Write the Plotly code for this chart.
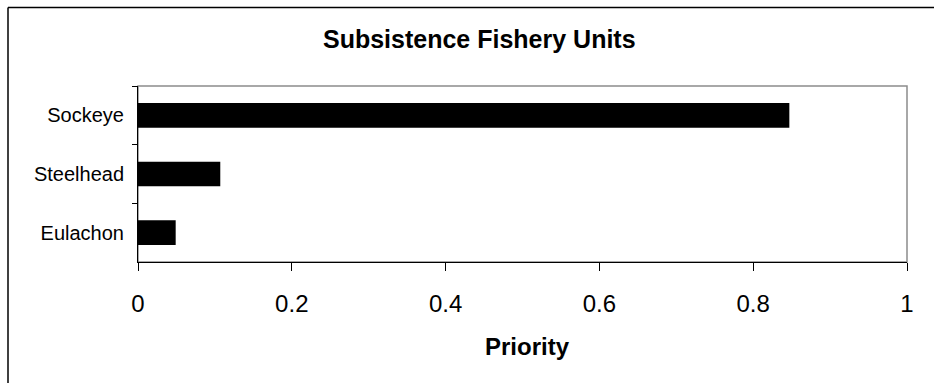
import plotly.graph_objects as go

# Subsistence fishery units and their priority scores
species = ["Sockeye", "Steelhead", "Eulachon"]
priority = [0.847, 0.107, 0.049]
x_ticks = [0, 0.2, 0.4, 0.6, 0.8, 1]
x_tick_labels = ["0", "0.2", "0.4", "0.6", "0.8", "1"]

W, H = 934, 383
ML, MR, MT, MB = 138, 27, 86, 121
PW, PH = W - ML - MR, H - MT - MB

def px_x(px):
    return (px - ML) / PW

def px_y(py):
    return (H - MB - py) / PH

FONT = "Liberation Sans, Arial, sans-serif"

fig = go.Figure(
    go.Bar(
        y=species,
        x=priority,
        orientation="h",
        width=0.42,
        marker=dict(color="#000000", line=dict(width=0)),
        hoverinfo="x+y",
    )
)

fig.update_layout(
    width=W,
    height=H,
    margin=dict(l=ML, r=MR, t=MT, b=MB, pad=0),
    paper_bgcolor="white",
    plot_bgcolor="white",
    showlegend=False,
    font=dict(family=FONT, color="#000000"),
    xaxis=dict(
        range=[0, 1],
        tickvals=x_ticks,
        ticktext=x_tick_labels,
        ticks="outside",
        ticklen=8,
        tickwidth=1,
        tickcolor="#000000",
        showline=True,
        linecolor="#000000",
        linewidth=1,
        showgrid=False,
        zeroline=False,
        tickfont=dict(size=24, family=FONT),
        ticklabelstandoff=12,
    ),
    yaxis=dict(
        type="category",
        categoryorder="array",
        categoryarray=species,
        autorange="reversed",
        tickson="boundaries",
        ticks="outside",
        ticklen=5,
        tickwidth=1,
        tickcolor="#000000",
        showline=True,
        linecolor="#000000",
        linewidth=1,
        showgrid=False,
        zeroline=False,
        tickfont=dict(size=20, family=FONT),
        ticklabelstandoff=9,
    ),
    shapes=[
        # grey plot-area frame (top and right edges)
        dict(type="rect", xref="paper", yref="paper", x0=0, x1=1, y0=0, y1=1,
             line=dict(color="#8c8c8c", width=1.5), fillcolor="rgba(0,0,0,0)",
             layer="below"),
        # outer chart border
        dict(type="line", xref="paper", yref="paper",
             x0=px_x(8), x1=px_x(8), y0=px_y(7.5), y1=px_y(400),
             line=dict(color="#000000", width=1.5)),
        dict(type="line", xref="paper", yref="paper",
             x0=px_x(8), x1=px_x(960), y0=px_y(7.5), y1=px_y(7.5),
             line=dict(color="#000000", width=1.5)),
    ],
    annotations=[
        dict(text="<b>Subsistence Fishery Units</b>", xref="paper", yref="paper",
             x=px_x(479), y=px_y(39), xanchor="center", yanchor="middle",
             showarrow=False, font=dict(size=25, family=FONT)),
        dict(text="<b>Priority</b>", xref="paper", yref="paper",
             x=px_x(527), y=px_y(346), xanchor="center", yanchor="middle",
             showarrow=False, font=dict(size=24, family=FONT)),
    ],
)

fig.write_html("out.html")
